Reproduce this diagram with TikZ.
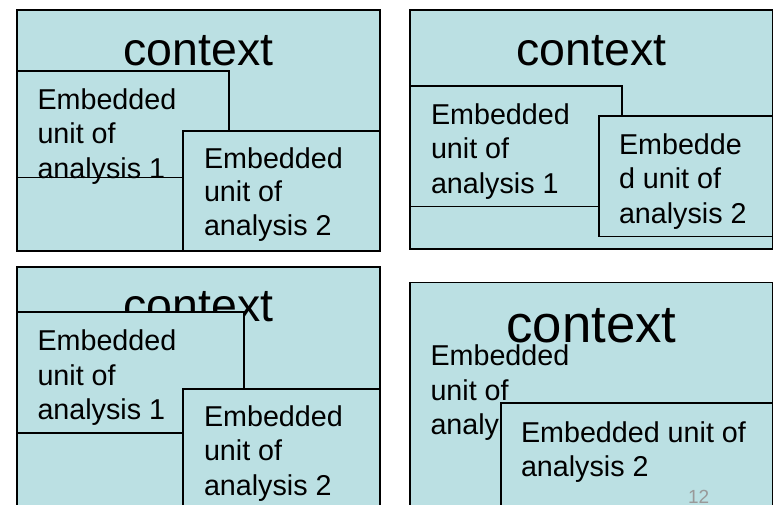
\documentclass[tikz,border=0pt]{standalone}
\usepackage{fontspec}
\setmainfont{Liberation Sans}
\definecolor{ctxblue}{RGB}{187,224,227}

\begin{document}
\begin{tikzpicture}[x=1pt,y=-1pt, line width=1.2pt]
                \tikzstyle{every node}=[inner sep=0pt, outer sep=0pt]
                \tikzstyle{panel}=[draw=black, fill=ctxblue]
                \tikzstyle{ctx}=[anchor=base, font=\fontsize{46.5}{50}\selectfont]
                \tikzstyle{unit}=[anchor=base west, align=left, font=\fontsize{28.7}{34.5}\selectfont]
                \useasboundingbox (0,0) rectangle (774,504);
                \clip (0,0) rectangle (774,504);
                \draw [panel] (17,10) rectangle (380,251);
                \node [ctx] (ctxA) at (198.5,65.7) {context};
                \draw [panel] (17,71) rectangle (229,177.5);
                \node [unit] (unitA1) at (37.5,178.3) {Embedded\\unit of\\analysis 1};
                \draw [panel] (183,131) rectangle (380,251);
                \node [unit, font=\fontsize{28.7}{33.5}\selectfont] (unitA2) at (204,235) {Embedded\\unit of\\analysis 2};
                \draw [panel] (410,10) rectangle (772.7,249);
                \node [ctx] (ctxB) at (591.5,65) {context};
                \draw [panel] (410,86) rectangle (622,206.7);
                \node [unit] (unitB1) at (431,193.3) {Embedded\\unit of\\analysis 1};
                \draw [panel] (599,116) rectangle (772.7,236.5);
                \node [unit] (unitB2) at (619,223) {Embedde\\d unit of\\analysis 2};
                \draw [panel] (17,267) rectangle (380,520);
                \node [ctx] (ctxC) at (198.5,321.7) {context};
                \draw [panel] (17,312) rectangle (244,433);
                \node [unit] (unitC1) at (37.5,419.5) {Embedded\\unit of\\analysis 1};
                \draw [panel] (183,389) rectangle (380,520);
                \node [unit] (unitC2) at (204,495) {Embedded\\unit of\\analysis 2};
                \draw [panel] (410,282.3) rectangle (772.7,520);
                \node [ctx, font=\fontsize{52.7}{56}\selectfont] (ctxD) at (591.5,342) {context};
                \node [unit] (unitD1) at (430.5,434.5) {Embedded\\unit of\\analysis 1};
                \draw [panel] (501,403) rectangle (772.7,520);
                \node [unit, font=\fontsize{28.7}{33.5}\selectfont] (unitD2) at (521,476) {Embedded unit of\\analysis 2};
                \node [anchor=base west, text=black!40, font=\fontsize{19}{22}\selectfont] (slideno) at (688,503) {12};
            \end{tikzpicture}
\end{document}
